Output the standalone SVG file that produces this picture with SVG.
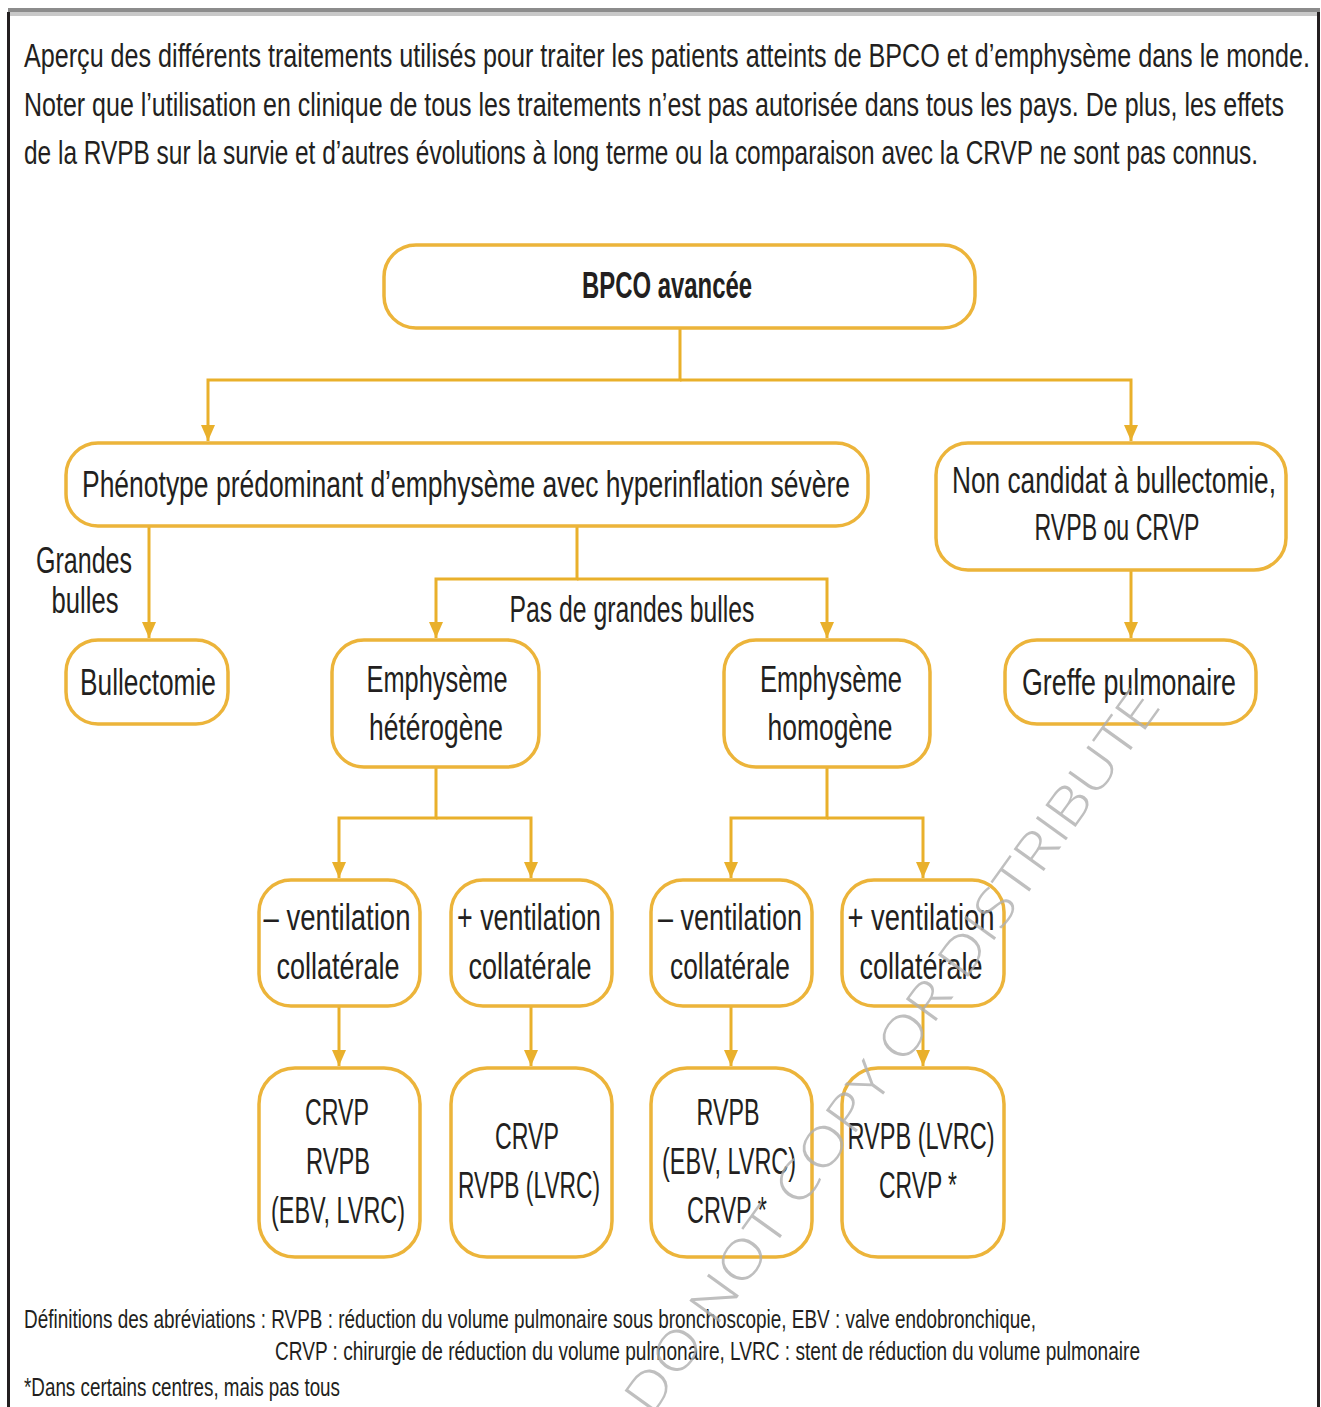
<svg xmlns="http://www.w3.org/2000/svg" width="1321" height="1407" viewBox="0 0 1321 1407">
<style>
.t{font-family:"Liberation Sans",Arial,sans-serif;fill:#231f20}
.n{font-size:36px;text-anchor:middle}
.b{font-weight:bold}
.h{font-size:33px}
.f{font-size:25px}
.box{fill:#fff;stroke:#ecb43a;stroke-width:3.5}
.c{fill:none;stroke:#e9b02b;stroke-width:3}
.wm{font-family:"Open Sans","Liberation Sans",sans-serif;font-weight:300;font-size:52px;fill:#b0b0b0;opacity:0.8}
</style>
<defs>
<marker id="ah" markerWidth="16" markerHeight="14" refX="16" refY="7" orient="auto" markerUnits="userSpaceOnUse" viewBox="0 0 16 14">
<path d="M0,0 L16,7 L0,14 Z" fill="#e9b02b"/>
</marker>
</defs>
<rect x="0" y="0" width="1321" height="1407" fill="#fff"/>
<rect x="8" y="8" width="1312" height="4" fill="#8c8c8c"/>
<rect x="8" y="12" width="1312" height="4" fill="#c8c8c8"/>
<rect x="7" y="12" width="3" height="1395" fill="#231f20"/>
<rect x="1317" y="12" width="3" height="1395" fill="#231f20"/>

<g id="title">
<text class="t h" x="24" y="67" textLength="1286" lengthAdjust="spacingAndGlyphs">Aperçu des différents traitements utilisés pour traiter les patients atteints de BPCO et d’emphysème dans le monde.</text>
<text class="t h" x="24" y="116" textLength="1260" lengthAdjust="spacingAndGlyphs">Noter que l’utilisation en clinique de tous les traitements n’est pas autorisée dans tous les pays. De plus, les effets</text>
<text class="t h" x="24" y="164" textLength="1234" lengthAdjust="spacingAndGlyphs">de la RVPB sur la survie et d’autres évolutions à long terme ou la comparaison avec la CRVP ne sont pas connus.</text>
</g>

<g id="connectors">
<path class="c" d="M680,328 V380 H208 V441" marker-end="url(#ah)"/>
<path class="c" d="M680,380 H1131 V441" marker-end="url(#ah)"/>
<path class="c" d="M149,526 V638" marker-end="url(#ah)"/>
<path class="c" d="M577,526 V579 H436 V638" marker-end="url(#ah)"/>
<path class="c" d="M577,579 H827 V638" marker-end="url(#ah)"/>
<path class="c" d="M1131,570 V638" marker-end="url(#ah)"/>
<path class="c" d="M436,767 V818 H339 V878" marker-end="url(#ah)"/>
<path class="c" d="M436,818 H531 V878" marker-end="url(#ah)"/>
<path class="c" d="M827,767 V818 H731 V878" marker-end="url(#ah)"/>
<path class="c" d="M827,818 H923 V878" marker-end="url(#ah)"/>
<path class="c" d="M339,1006 V1066" marker-end="url(#ah)"/>
<path class="c" d="M531,1006 V1066" marker-end="url(#ah)"/>
<path class="c" d="M731,1006 V1066" marker-end="url(#ah)"/>
<path class="c" d="M923,1006 V1066" marker-end="url(#ah)"/>
<text class="t n" x="84" y="573" textLength="96" lengthAdjust="spacingAndGlyphs">Grandes</text>
<text class="t n" x="85" y="613" textLength="67" lengthAdjust="spacingAndGlyphs">bulles</text>
<text class="t n" x="632" y="622" textLength="245" lengthAdjust="spacingAndGlyphs">Pas de grandes bulles</text>
</g>

<g id="n-bpco">
<rect class="box" x="384" y="245" width="591" height="83" rx="32"/>
<text class="t n b" x="667" y="298" textLength="170" lengthAdjust="spacingAndGlyphs">BPCO avancée</text>
</g>
<g id="n-phenotype">
<rect class="box" x="66" y="443" width="802" height="83" rx="32"/>
<text class="t n" x="466" y="497" textLength="768" lengthAdjust="spacingAndGlyphs">Phénotype prédominant d’emphysème avec hyperinflation sévère</text>
</g>
<g id="n-noncandidat">
<rect class="box" x="936" y="443" width="350" height="127" rx="32"/>
<text class="t n" x="1114" y="493" textLength="324" lengthAdjust="spacingAndGlyphs">Non candidat à bullectomie,</text>
<text class="t n" x="1117" y="540" textLength="165" lengthAdjust="spacingAndGlyphs">RVPB ou CRVP</text>
</g>
<g id="n-bullectomie">
<rect class="box" x="66" y="640" width="162" height="84" rx="32"/>
<text class="t n" x="148" y="695" textLength="136" lengthAdjust="spacingAndGlyphs">Bullectomie</text>
</g>
<g id="n-heterogene">
<rect class="box" x="332" y="640" width="207" height="127" rx="32"/>
<text class="t n" x="437" y="692" textLength="141" lengthAdjust="spacingAndGlyphs">Emphysème</text>
<text class="t n" x="436" y="740" textLength="134" lengthAdjust="spacingAndGlyphs">hétérogène</text>
</g>
<g id="n-homogene">
<rect class="box" x="724" y="640" width="206" height="127" rx="32"/>
<text class="t n" x="831" y="692" textLength="142" lengthAdjust="spacingAndGlyphs">Emphysème</text>
<text class="t n" x="830" y="740" textLength="125" lengthAdjust="spacingAndGlyphs">homogène</text>
</g>
<g id="n-greffe">
<rect class="box" x="1005" y="640" width="251" height="84" rx="32"/>
<text class="t n" x="1129" y="695" textLength="214" lengthAdjust="spacingAndGlyphs">Greffe pulmonaire</text>
</g>
<g id="n-vent1">
<rect class="box" x="259" y="880" width="161" height="126" rx="32"/>
<text class="t n" x="337" y="930" textLength="147" lengthAdjust="spacingAndGlyphs">– ventilation</text>
<text class="t n" x="338" y="979" textLength="123" lengthAdjust="spacingAndGlyphs">collatérale</text>
</g>
<g id="n-vent2">
<rect class="box" x="451" y="880" width="161" height="126" rx="32"/>
<text class="t n" x="529" y="930" textLength="144" lengthAdjust="spacingAndGlyphs">+ ventilation</text>
<text class="t n" x="530" y="979" textLength="123" lengthAdjust="spacingAndGlyphs">collatérale</text>
</g>
<g id="n-vent3">
<rect class="box" x="651" y="880" width="161" height="126" rx="32"/>
<text class="t n" x="730" y="930" textLength="144" lengthAdjust="spacingAndGlyphs">– ventilation</text>
<text class="t n" x="730" y="979" textLength="120" lengthAdjust="spacingAndGlyphs">collatérale</text>
</g>
<g id="n-vent4">
<rect class="box" x="842" y="880" width="162" height="126" rx="32"/>
<text class="t n" x="921" y="930" textLength="147" lengthAdjust="spacingAndGlyphs">+ ventilation</text>
<text class="t n" x="921" y="979" textLength="123" lengthAdjust="spacingAndGlyphs">collatérale</text>
</g>
<g id="n-res1">
<rect class="box" x="259" y="1068" width="161" height="189" rx="36"/>
<text class="t n" x="337" y="1125" textLength="64" lengthAdjust="spacingAndGlyphs">CRVP</text>
<text class="t n" x="338" y="1174" textLength="64" lengthAdjust="spacingAndGlyphs">RVPB</text>
<text class="t n" x="338" y="1223" textLength="134" lengthAdjust="spacingAndGlyphs">(EBV, LVRC)</text>
</g>
<g id="n-res2">
<rect class="box" x="451" y="1068" width="161" height="189" rx="36"/>
<text class="t n" x="527" y="1149" textLength="64" lengthAdjust="spacingAndGlyphs">CRVP</text>
<text class="t n" x="529" y="1198" textLength="142" lengthAdjust="spacingAndGlyphs">RVPB (LVRC)</text>
</g>
<g id="n-res3">
<rect class="box" x="651" y="1068" width="161" height="189" rx="36"/>
<text class="t n" x="728" y="1125" textLength="63" lengthAdjust="spacingAndGlyphs">RVPB</text>
<text class="t n" x="729" y="1174" textLength="134" lengthAdjust="spacingAndGlyphs">(EBV, LVRC)</text>
<text class="t n" x="727" y="1223" textLength="80" lengthAdjust="spacingAndGlyphs">CRVP *</text>
</g>
<g id="n-res4">
<rect class="box" x="842" y="1068" width="162" height="189" rx="36"/>
<text class="t n" x="921" y="1149" textLength="147" lengthAdjust="spacingAndGlyphs">RVPB (LVRC)</text>
<text class="t n" x="918" y="1198" textLength="78" lengthAdjust="spacingAndGlyphs">CRVP *</text>
</g>

<g id="footer">
<text class="t f" x="24" y="1328" textLength="1012" lengthAdjust="spacingAndGlyphs">Définitions des abréviations : RVPB : réduction du volume pulmonaire sous bronchoscopie, EBV : valve endobronchique,</text>
<text class="t f" x="275" y="1360" textLength="865" lengthAdjust="spacingAndGlyphs">CRVP : chirurgie de réduction du volume pulmonaire, LVRC : stent de réduction du volume pulmonaire</text>
<text class="t f" x="24" y="1396" textLength="316" lengthAdjust="spacingAndGlyphs">*Dans certains centres, mais pas tous</text>
</g>

<g id="watermark">
<text class="wm" x="890" y="1050" text-anchor="middle" dominant-baseline="central" textLength="876" lengthAdjust="spacingAndGlyphs" transform="rotate(-54.3 890 1050)">DO NOT COPY OR DISTRIBUTE</text>
</g>
</svg>
